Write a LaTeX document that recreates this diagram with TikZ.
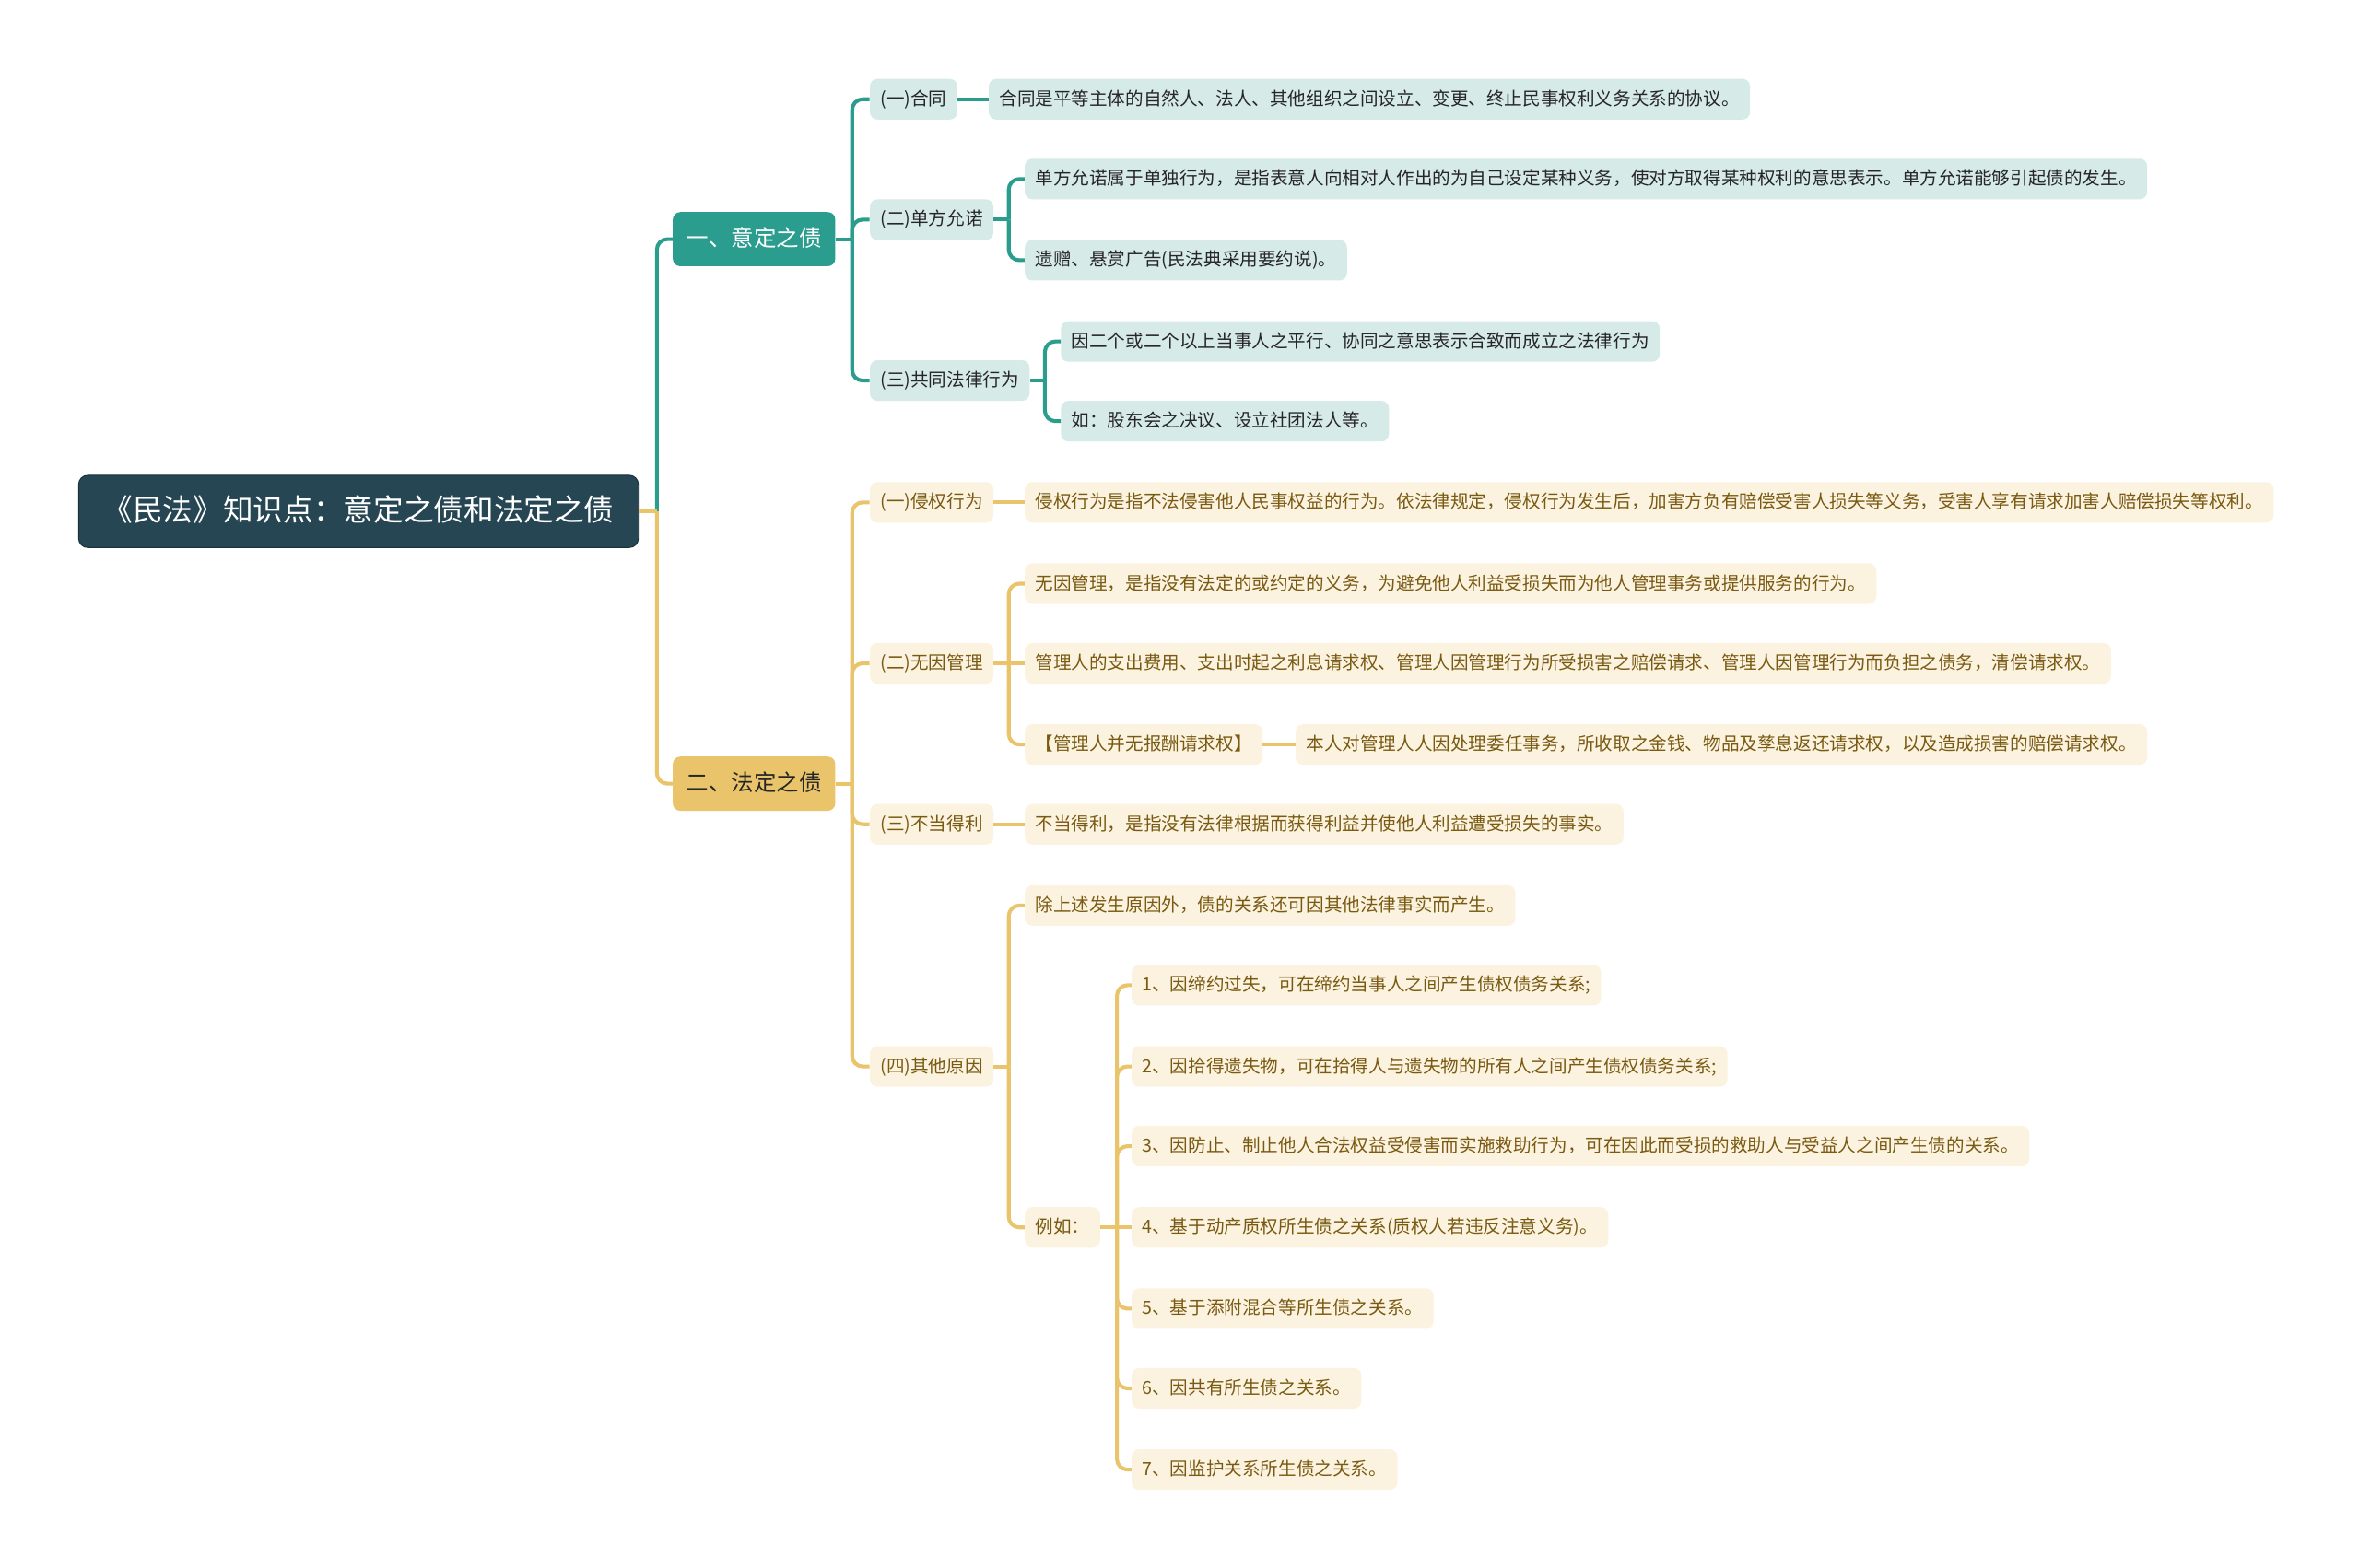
\documentclass[tikz,border=0pt]{standalone}
\usepackage{fontspec}
\setmainfont{Noto Sans CJK SC}
\usetikzlibrary{calc}
\definecolor{cRoot}{RGB}{38,70,83}
\definecolor{cTeal}{RGB}{42,157,143}
\definecolor{cTealL}{RGB}{214,234,231}
\definecolor{cGold}{RGB}{233,196,106}
\definecolor{cGoldL}{RGB}{251,243,224}
\definecolor{cGoldT}{RGB}{122,90,18}
\tikzset{
  rootbox/.style={anchor=west, fill=cRoot, draw=cRoot!70!black, line width=0.6pt, text=white,
                  rounded corners=6pt, font={\fontsize{20}{24}\selectfont},
                  inner xsep=16pt, inner ysep=0pt, minimum height=48pt, text height=16pt, text depth=3.5pt},
  headbox/.style={anchor=west, rounded corners=5pt, font={\fontsize{15}{18}\selectfont},
                  inner xsep=9pt, inner ysep=0pt, minimum height=36pt, text height=12.5pt, text depth=2.5pt},
  tealhead/.style={headbox, fill=cTeal, text=white},
  goldhead/.style={headbox, fill=cGold, text=black!85},
  itembox/.style={anchor=west, rounded corners=5pt, font={\fontsize{12}{14}\selectfont},
                  inner xsep=7pt, inner ysep=0pt, minimum height=27pt, text height=10pt, text depth=2pt},
  tealitem/.style={itembox, fill=cTealL, text=black!85},
  golditem/.style={itembox, fill=cGoldL, text=cGoldT},
  tline/.style={draw=cTeal, line width=2.5pt, rounded corners=7pt},
  gline/.style={draw=cGold, line width=2.5pt, rounded corners=7pt},
}

\begin{document}
\begin{tikzpicture}[x=1pt, y=-1pt]
\fill[white] (0,0) rectangle (1568,1042);

% root and the two main branches
\node[rootbox] (root) at (52,340) {《民法》知识点：意定之债和法定之债};
\node[tealhead] (yd) at (447,159) {一、意定之债};
\node[goldhead] (fd) at (447,521) {二、法定之债};

% 意定之债
\node[tealitem] (ht) at (578,66) {(一)合同};
\node[tealitem] (dfyn) at (578,146) {(二)单方允诺};
\node[tealitem] (gtfl) at (578,253) {(三)共同法律行为};
\node[tealitem] (ht1) at (657,66) {合同是平等主体的自然人、法人、其他组织之间设立、变更、终止民事权利义务关系的协议。};
\node[tealitem] (dfyn1) at (681,119) {单方允诺属于单独行为，是指表意人向相对人作出的为自己设定某种义务，使对方取得某种权利的意思表示。单方允诺能够引起债的发生。};
\node[tealitem] (dfyn2) at (681,173) {遗赠、悬赏广告(民法典采用要约说)。};
\node[tealitem] (gtfl1) at (705,227) {因二个或二个以上当事人之平行、协同之意思表示合致而成立之法律行为};
\node[tealitem] (gtfl2) at (705,280) {如：股东会之决议、设立社团法人等。};

% 法定之债
\node[golditem] (qq) at (578,334) {(一)侵权行为};
\node[golditem] (wy) at (578,441) {(二)无因管理};
\node[golditem] (bd) at (578,548) {(三)不当得利};
\node[golditem] (qt) at (578,709) {(四)其他原因};
\node[golditem] (qq1) at (681,334) {侵权行为是指不法侵害他人民事权益的行为。依法律规定，侵权行为发生后，加害方负有赔偿受害人损失等义务，受害人享有请求加害人赔偿损失等权利。};
\node[golditem] (wy1) at (681,388) {无因管理，是指没有法定的或约定的义务，为避免他人利益受损失而为他人管理事务或提供服务的行为。};
\node[golditem] (wy2) at (681,441) {管理人的支出费用、支出时起之利息请求权、管理人因管理行为所受损害之赔偿请求、管理人因管理行为而负担之债务，清偿请求权。};
\node[golditem] (wy3) at (681,495) {【管理人并无报酬请求权】};
\node[golditem] (wy31) at (861,495) {本人对管理人人因处理委任事务，所收取之金钱、物品及孳息返还请求权，以及造成损害的赔偿请求权。};
\node[golditem] (bd1) at (681,548) {不当得利，是指没有法律根据而获得利益并使他人利益遭受损失的事实。};
\node[golditem] (qt1) at (681,602) {除上述发生原因外，债的关系还可因其他法律事实而产生。};
\node[golditem] (lr) at (681,816) {例如：};
\node[golditem] (lr1) at (752,655) {1、因缔约过失，可在缔约当事人之间产生债权债务关系;};
\node[golditem] (lr2) at (752,709) {2、因拾得遗失物，可在拾得人与遗失物的所有人之间产生债权债务关系;};
\node[golditem] (lr3) at (752,762) {3、因防止、制止他人合法权益受侵害而实施救助行为，可在因此而受损的救助人与受益人之间产生债的关系。};
\node[golditem] (lr4) at (752,816) {4、基于动产质权所生债之关系(质权人若违反注意义务)。};
\node[golditem] (lr5) at (752,870) {5、基于添附混合等所生债之关系。};
\node[golditem] (lr6) at (752,923) {6、因共有所生债之关系。};
\node[golditem] (lr7) at (752,977) {7、因监护关系所生债之关系。};

% connectors
\coordinate (rootj) at ($(root.east)+(12,0)$);
\draw[tline] (rootj) |- (yd.west);
\draw[gline] (root.east) -- (rootj);
\draw[gline] (rootj) |- (fd.west);

\coordinate (ydj) at ($(yd.east)+(11,0)$);
\draw[tline] (yd.east) -- (ydj);
\foreach \c in {ht,dfyn,gtfl} \draw[tline] (ydj) |- (\c.west);
\draw[tline] (ht.east) -- (ht1.west);
\coordinate (dfynj) at ($(dfyn.east)+(10,0)$);
\draw[tline] (dfyn.east) -- (dfynj);
\foreach \c in {dfyn1,dfyn2} \draw[tline] (dfynj) |- (\c.west);
\coordinate (gtflj) at ($(gtfl.east)+(10,0)$);
\draw[tline] (gtfl.east) -- (gtflj);
\foreach \c in {gtfl1,gtfl2} \draw[tline] (gtflj) |- (\c.west);

\coordinate (fdj) at ($(fd.east)+(11,0)$);
\draw[gline] (fd.east) -- (fdj);
\foreach \c in {qq,wy,bd,qt} \draw[gline] (fdj) |- (\c.west);
\draw[gline] (qq.east) -- (qq1.west);
\coordinate (wyj) at ($(wy.east)+(10,0)$);
\draw[gline] (wy.east) -- (wy2.west);
\foreach \c in {wy1,wy3} \draw[gline] (wyj) |- (\c.west);
\draw[gline] (wy3.east) -- (wy31.west);
\draw[gline] (bd.east) -- (bd1.west);
\coordinate (qtj) at ($(qt.east)+(10,0)$);
\draw[gline] (qt.east) -- (qtj);
\foreach \c in {qt1,lr} \draw[gline] (qtj) |- (\c.west);
\coordinate (lrj) at ($(lr.east)+(11,0)$);
\draw[gline] (lr.east) -- (lr4.west);
\foreach \c in {lr1,lr2,lr3,lr5,lr6,lr7} \draw[gline] (lrj) |- (\c.west);
\end{tikzpicture}
\end{document}
